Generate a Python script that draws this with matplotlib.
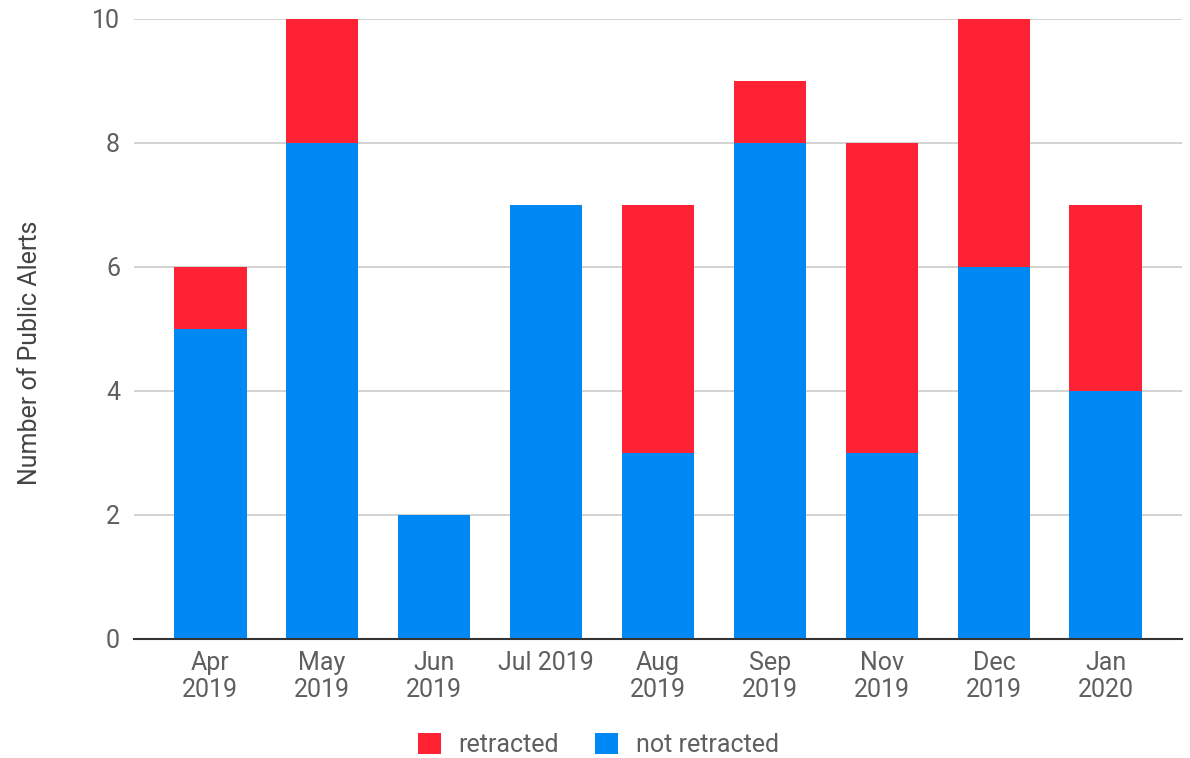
import matplotlib
matplotlib.use("Agg")
import matplotlib.pyplot as plt
from matplotlib.patches import Patch

plt.rcParams['font.family'] = ['Roboto', 'DejaVu Sans']

months = ["Apr\n2019", "May\n2019", "Jun\n2019", "Jul 2019", "Aug\n2019",
          "Sep\n2019", "Nov\n2019", "Dec\n2019", "Jan\n2020"]
not_retracted = [5, 8, 2, 7, 3, 8, 3, 6, 4]
retracted = [1, 2, 0, 0, 4, 1, 5, 4, 3]

RED = "#FF2233"
BLUE = "#0088F5"
TEXT = "#5f5f5f"
FS = 18

fig = plt.figure(figsize=(11.9, 7.58), dpi=100)
ax = fig.add_axes([0.1126, 0.157, 0.8807, 0.818])

x = list(range(len(months)))
ax.bar(x, not_retracted, width=0.65, color=BLUE, zorder=3)
ax.bar(x, retracted, width=0.65, bottom=not_retracted, color=RED, zorder=3)

ax.set_xlim(-0.68, 8.68)
ax.set_ylim(0, 10)
ax.set_yticks([0, 2, 4, 6, 8, 10])
ax.set_xticks(x)
ax.set_xticklabels(months, linespacing=1.15)
ax.tick_params(axis='both', length=0, labelsize=FS, labelcolor=TEXT)
ax.tick_params(axis='x', pad=9)
ax.tick_params(axis='y', pad=10)

ax.grid(axis='y', color="#cccccc", linewidth=1.2, zorder=0)
for s in ['top', 'right', 'left']:
    ax.spines[s].set_visible(False)
ax.spines['bottom'].set_color("#333333")
ax.spines['bottom'].set_linewidth(1.5)
ax.spines['bottom'].set_zorder(4)

fig.text(30 / 1190, 1 - 353 / 758, "Number of Public Alerts", rotation=90,
         ha='center', va='center', fontsize=18, color="#444444")

handles = [Patch(facecolor=RED, label="retracted"),
           Patch(facecolor=BLUE, label="not retracted")]
fig.legend(handles=handles, loc='center', bbox_to_anchor=(0.503, 1 - 745 / 758),
           ncol=2, frameon=False, fontsize=FS, labelcolor=TEXT,
           handlelength=0.92, handleheight=0.92, handletextpad=0.72,
           columnspacing=1.45)

fig.savefig("out.png", dpi=100, facecolor="white")
